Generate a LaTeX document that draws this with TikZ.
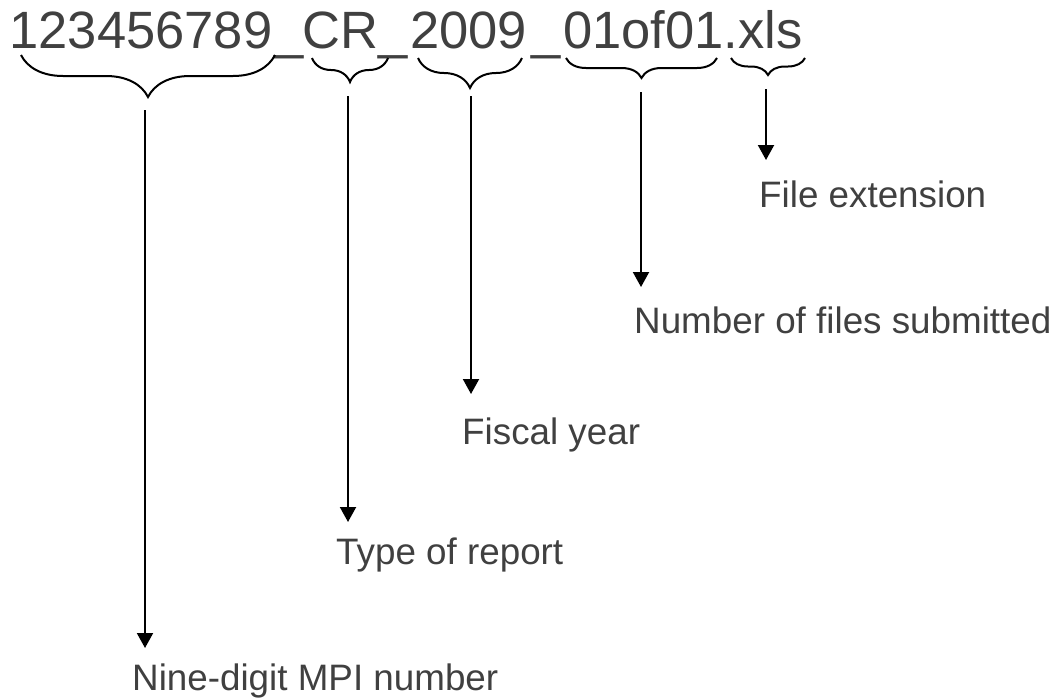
\documentclass[tikz,border=0pt]{standalone}
\usepackage{fontspec}
\setmainfont{Liberation Sans}
\usetikzlibrary{arrows.meta,decorations.pathreplacing}
\definecolor{txtgray}{HTML}{404040}
\tikzset{
  titletext/.style={anchor=base west,inner sep=0pt,text=txtgray,font=\fontsize{52.5}{60}\selectfont},
  labeltext/.style={anchor=base west,inner sep=0pt,text=txtgray,font=\fontsize{36.8}{44}\selectfont},
  bracepath/.style={draw=black,line width=2pt,decorate,decoration={brace,mirror,amplitude=#1}},
  pointer/.style={draw=black,line width=2pt,-{Triangle[width=16pt,length=15pt]}}
}
\begin{document}
\begin{tikzpicture}[x=1pt,y=-1pt]
\useasboundingbox (0,0) rectangle (1060,697);
% file name, piece by piece
\node[titletext] (t1) at (9.3,48)  {123456789};
\node[titletext] (t2) at (274,48)  {\_};
\node[titletext] (t3) at (302.4,48) {CR};
\node[titletext] (t4) at (378,48)  {\_};
\node[titletext] (t5) at (410,48)  {2009};
\node[titletext] (t6) at (531,48)  {\_};
\node[titletext] (t7) at (563,48)  {01of01};
\node[titletext] (t8) at (723.5,48) {.xls};
% braces
\coordinate (b1l) at (21,55);  \coordinate (b1r) at (275,55);
\coordinate (b2l) at (312,58); \coordinate (b2r) at (388,58);
\coordinate (b3l) at (418,58); \coordinate (b3r) at (522,58);
\coordinate (b4l) at (566,58); \coordinate (b4r) at (717,58);
\coordinate (b5l) at (731,58); \coordinate (b5r) at (805,58);
\path[bracepath=42] (b1l) -- (b1r);
\path[bracepath=24] (b2l) -- (b2r);
\path[bracepath=30] (b3l) -- (b3r);
\path[bracepath=20] (b4l) -- (b4r);
\path[bracepath=17] (b5l) -- (b5r);
% labels
\node[labeltext] (l1) at (132,690) {Nine-digit MPI number};
\node[labeltext] (l2) at (336,564) {Type of report};
\node[labeltext] (l3) at (462,444) {Fiscal year};
\node[labeltext] (l4) at (634,333) {Number of files submitted};
\node[labeltext] (l5) at (759,207) {File extension};
% arrow ends
\coordinate (s1) at (145,110); \coordinate (e1) at (145,648);
\coordinate (s2) at (348,96);  \coordinate (e2) at (348,522);
\coordinate (s3) at (471,96);  \coordinate (e3) at (471,394);
\coordinate (s4) at (641,92);  \coordinate (e4) at (641,287);
\coordinate (s5) at (766,89);  \coordinate (e5) at (766,160);
\draw[pointer] (s1) -- (e1);
\draw[pointer] (s2) -- (e2);
\draw[pointer] (s3) -- (e3);
\draw[pointer] (s4) -- (e4);
\draw[pointer] (s5) -- (e5);
\end{tikzpicture}
\end{document}
